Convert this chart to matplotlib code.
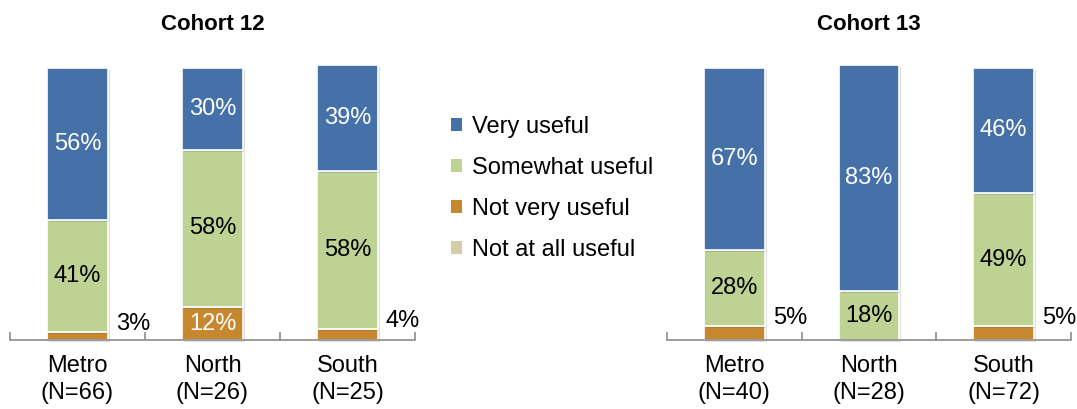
import numpy as np
import matplotlib
matplotlib.use("Agg")
import matplotlib.pyplot as plt
import matplotlib.patheffects as pe
from matplotlib.patches import Patch

plt.rcParams['font.family'] = ['Liberation Sans', 'DejaVu Sans']

regions = ["Metro", "North", "South"]
n_c12 = [66, 26, 25]
n_c13 = [40, 28, 72]
levels = ["Very useful", "Somewhat useful", "Not very useful", "Not at all useful"]

# shares in %, bottom-up stacking: not very, somewhat, very
c12_very = [56, 30, 39]
c12_some = [41, 58, 58]
c12_notvery = [3, 12, 4]
c12_notall = [0, 0, 0]

c13_very = [67, 83, 46]
c13_some = [28, 18, 49]
c13_notvery = [5, 0, 5]
c13_notall = [0, 0, 0]

colors = {"Very useful": "#4571A8", "Somewhat useful": "#BED294",
          "Not very useful": "#C6872F", "Not at all useful": "#D5CCA8"}
txt_color = {"Very useful": "white", "Somewhat useful": "black",
             "Not very useful": "white", "Not at all useful": "black"}

FS = 17

fig = plt.figure(figsize=(10.77, 4.09), dpi=100)
ax1 = fig.add_axes([0.0093, 0.1687, 0.376, 0.672])
ax2 = fig.add_axes([0.6193, 0.1687, 0.3751, 0.672])

shadow = [pe.SimplePatchShadow(offset=(1.5, -1.5), alpha=0.15), pe.Normal()]


def draw_cohort(ax, title, ns, notall, notvery, some, very):
    x = np.arange(len(regions))
    width = 0.45
    bottom = np.zeros(len(regions))
    series = [("Not at all useful", notall), ("Not very useful", notvery),
              ("Somewhat useful", some), ("Very useful", very)]
    for name, vals in series:
        vals = np.array(vals, dtype=float)
        bars = ax.bar(x, vals, width, bottom=bottom, color=colors[name],
                      edgecolor="white", linewidth=1.2, clip_on=False)
        for b in bars:
            b.set_path_effects(shadow)
        for i, v in enumerate(vals):
            if v <= 0:
                continue
            if v < 8:
                ax.text(x[i] + width / 2 + 0.06, bottom[i] + v - 1, f"{int(v)}%",
                        ha="left", va="bottom", fontsize=FS, color="black")
            else:
                ax.text(x[i], bottom[i] + v / 2, f"{int(v)}%", ha="center",
                        va="center", fontsize=FS, color=txt_color[name])
        bottom += vals

    ax.set_xlim(-0.5, len(regions) - 0.5)
    ax.set_ylim(0, 101)
    ax.set_yticks([])
    ax.set_xticks(x)
    ax.set_xticklabels([f"{r}\n(N={n})" for r, n in zip(regions, ns)], fontsize=FS,
                       linespacing=1.3)
    ax.tick_params(axis="x", which="major", length=0, pad=11)
    ax.set_xticks(np.arange(-0.5, len(regions)), minor=True)
    ax.tick_params(axis="x", which="minor", direction="in", length=6,
                   color="#8c8c8c", width=1.2)
    for s in ["top", "right", "left"]:
        ax.spines[s].set_visible(False)
    ax.spines["bottom"].set_color("#8c8c8c")
    ax.spines["bottom"].set_linewidth(1.2)
    ax.set_title(title, fontsize=16, fontweight="bold", pad=25)


draw_cohort(ax1, "Cohort 12", n_c12, c12_notall, c12_notvery, c12_some, c12_very)
draw_cohort(ax2, "Cohort 13", n_c13, c13_notall, c13_notvery, c13_some, c13_very)

handles = [Patch(facecolor=colors[l], edgecolor="none") for l in levels]
fig.legend(handles, levels, loc="upper left", bbox_to_anchor=(0.399, 0.768),
           frameon=False, fontsize=FS, handlelength=0.45, handleheight=0.45,
           handletextpad=0.45, labelspacing=0.8)

fig.savefig("out.png", dpi=100)
